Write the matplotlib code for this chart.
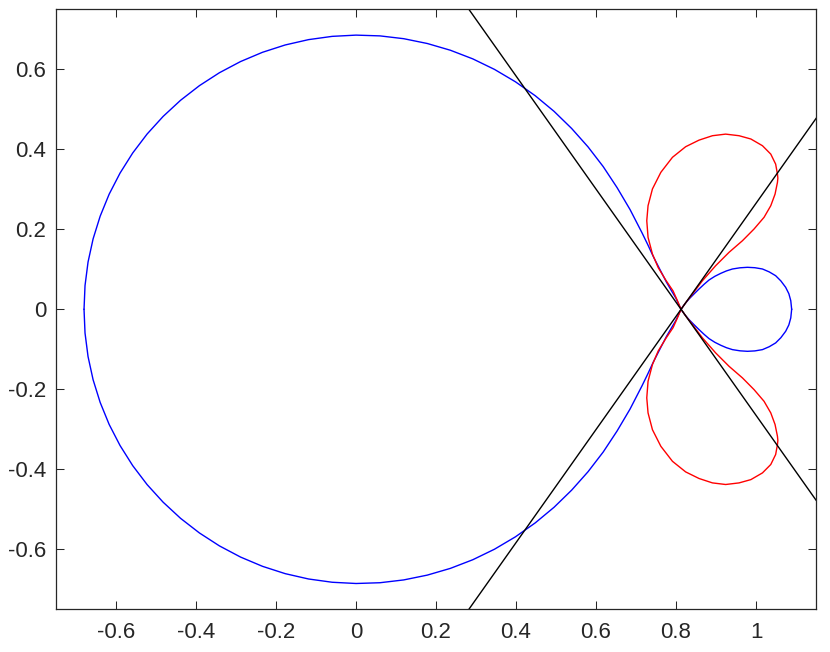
import matplotlib
matplotlib.use("Agg")
import matplotlib.pyplot as plt
import numpy as np

plt.rcParams["font.family"] = ["Liberation Sans", "DejaVu Sans"]
plt.rcParams["axes.unicode_minus"] = False

# Crossing point of the curves and slope of the two black tangent lines
node_x = 0.8125
tangent_slope = 1.414

# Blue curve, upper half of the big loop, read in polar form around the origin
# (angle in degrees, distance from the origin), left end -> crossing point
big_theta = [180, 175, 170, 165, 160, 155, 150, 145, 140, 135, 130, 125, 120,
             115, 110, 105, 100, 95, 90, 85, 80, 75, 70, 65, 60, 55, 50, 45,
             40, 35, 30, 25, 20, 15, 12.5, 10, 7.5, 5, 3.5, 2, 0]
big_r = [0.680, 0.6801, 0.6803, 0.6805, 0.6807, 0.681, 0.6812, 0.6815, 0.6818,
         0.682, 0.6823, 0.6826, 0.683, 0.6834, 0.6838, 0.6842, 0.6846, 0.685,
         0.6855, 0.6862, 0.687, 0.688, 0.6893, 0.6908, 0.6925, 0.6945, 0.697,
         0.700, 0.7035, 0.708, 0.7135, 0.720, 0.729, 0.740, 0.747, 0.755,
         0.766, 0.779, 0.789, 0.800, 0.8125]

# Blue curve, upper half of the small loop (crossing point -> right end)
small_x = [0.8125, 0.8220, 0.8325, 0.845, 0.8575, 0.870, 0.8825, 0.897, 0.912,
           0.926, 0.941, 0.960, 0.9785, 0.997, 1.016, 1.033, 1.049, 1.062,
           1.074, 1.082, 1.0868, 1.089]
small_y = [0.0, 0.0135, 0.0258, 0.0385, 0.0508, 0.0625, 0.0733, 0.0825, 0.090,
           0.096, 0.1008, 0.1038, 0.105, 0.104, 0.1008, 0.0935, 0.084, 0.071,
           0.055, 0.039, 0.0215, 0.0]

# Red curve, upper lobe (crossing point -> right side -> top -> left side -> crossing point)
lobe_x = [0.8125, 0.8260, 0.841, 0.866, 0.899, 0.9325, 0.966, 0.995, 1.020, 1.0368,
          1.0475, 1.0535, 1.0545, 1.0535, 1.049, 1.0368, 1.016, 0.987, 0.9575,
          0.924, 0.891, 0.8575, 0.824, 0.791, 0.762, 0.741, 0.730, 0.7268,
          0.730, 0.741, 0.7555, 0.7750, 0.7925, 0.803, 0.8125]
lobe_y = [0.0, 0.0190, 0.0383, 0.0715, 0.109, 0.1425, 0.1715, 0.2008, 0.230, 0.259,
          0.288, 0.3175, 0.328, 0.338, 0.363, 0.388, 0.409, 0.4258, 0.434,
          0.438, 0.434, 0.423, 0.4065, 0.38, 0.3425, 0.301, 0.259, 0.2215,
          0.18, 0.138, 0.104, 0.072, 0.046, 0.0225, 0.0]

x_ticks = [-0.6, -0.4, -0.2, 0, 0.2, 0.4, 0.6, 0.8, 1]
x_labels = ["-0.6", "-0.4", "-0.2", "0", "0.2", "0.4", "0.6", "0.8", "1"]
y_ticks = [-0.6, -0.4, -0.2, 0, 0.2, 0.4, 0.6]
y_labels = ["-0.6", "-0.4", "-0.2", "0", "0.2", "0.4", "0.6"]

# polar readings -> x/y
t = np.radians(big_theta)
big_x = np.array(big_r) * np.cos(t)
big_y = np.array(big_r) * np.sin(t)

fig = plt.figure(figsize=(8.3, 6.52), dpi=100)
ax = fig.add_axes([0.0675, 0.0655, 0.9157, 0.9202])

lw = 1.0
for sign in (1, -1):
    ax.plot(big_x, sign * big_y, color="blue", linewidth=lw)
    ax.plot(small_x, sign * np.array(small_y), color="blue", linewidth=lw)
    ax.plot(lobe_x, sign * np.array(lobe_y), color="red", linewidth=lw)

ax.axline((node_x, 0), slope=tangent_slope, color="black", linewidth=lw)
ax.axline((node_x, 0), slope=-tangent_slope, color="black", linewidth=lw)

ax.set_xlim(-0.75, 1.15)
ax.set_ylim(-0.75, 0.75)
ax.set_xticks(x_ticks)
ax.set_xticklabels(x_labels)
ax.set_yticks(y_ticks)
ax.set_yticklabels(y_labels)

ax.tick_params(direction="in", length=5.5, width=0.75, colors="#262626",
               labelsize=16, top=True, right=True)
ax.tick_params(axis="x", pad=9)
ax.tick_params(axis="y", pad=7)
for sp in ax.spines.values():
    sp.set_linewidth(0.9)
    sp.set_color("#262626")

fig.savefig("out.png", dpi=100)
